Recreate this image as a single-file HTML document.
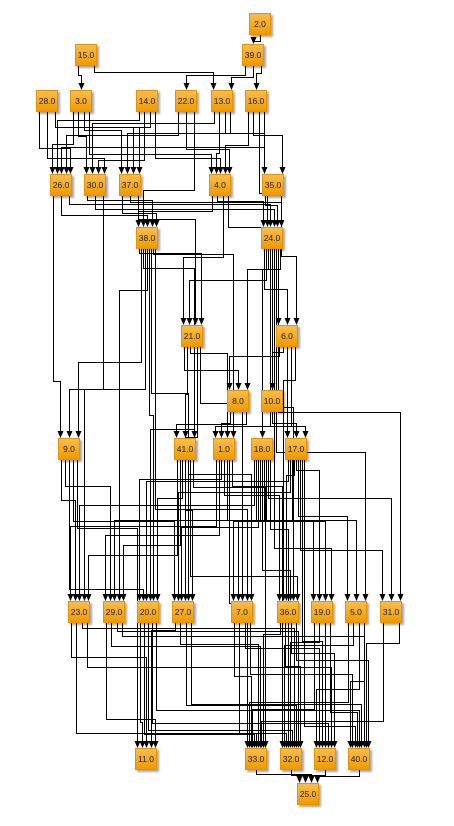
<!DOCTYPE html>
<html><head><meta charset="utf-8"><style>
html,body{margin:0;padding:0;background:#fff;width:454px;height:826px;overflow:hidden;position:relative}
svg{position:absolute;left:0;top:0}
.n{position:absolute;width:22px;height:22px;box-sizing:border-box;background:linear-gradient(#f8bd4e,#f09a00);border:1px solid #e39400;box-shadow:2px 2px 2px rgba(0,0,0,.35);font:8.5px "Liberation Sans",sans-serif;color:#222;text-align:center;line-height:21px}
</style></head><body>
<svg id="s" width="454" height="826"></svg>
<div class="n" style="left:249px;top:13px">2.0</div>
<div class="n" style="left:75px;top:44px">15.0</div>
<div class="n" style="left:242px;top:44px">39.0</div>
<div class="n" style="left:36px;top:90px">28.0</div>
<div class="n" style="left:70px;top:90px">3.0</div>
<div class="n" style="left:136px;top:90px">14.0</div>
<div class="n" style="left:175px;top:90px">22.0</div>
<div class="n" style="left:211px;top:90px">13.0</div>
<div class="n" style="left:245px;top:90px">16.0</div>
<div class="n" style="left:50px;top:174px">26.0</div>
<div class="n" style="left:84px;top:174px">30.0</div>
<div class="n" style="left:119px;top:174px">37.0</div>
<div class="n" style="left:209px;top:174px">4.0</div>
<div class="n" style="left:262px;top:174px">35.0</div>
<div class="n" style="left:136px;top:227px">38.0</div>
<div class="n" style="left:261px;top:227px">24.0</div>
<div class="n" style="left:181px;top:325px">21.0</div>
<div class="n" style="left:276px;top:325px">6.0</div>
<div class="n" style="left:227px;top:390px">8.0</div>
<div class="n" style="left:261px;top:390px">10.0</div>
<div class="n" style="left:58px;top:438px">9.0</div>
<div class="n" style="left:174px;top:438px">41.0</div>
<div class="n" style="left:213px;top:438px">1.0</div>
<div class="n" style="left:251px;top:438px">18.0</div>
<div class="n" style="left:285px;top:438px">17.0</div>
<div class="n" style="left:68px;top:601px">23.0</div>
<div class="n" style="left:103px;top:601px">29.0</div>
<div class="n" style="left:137px;top:601px">20.0</div>
<div class="n" style="left:172px;top:601px">27.0</div>
<div class="n" style="left:231px;top:601px">7.0</div>
<div class="n" style="left:277px;top:601px">36.0</div>
<div class="n" style="left:311px;top:601px">19.0</div>
<div class="n" style="left:345px;top:601px">5.0</div>
<div class="n" style="left:380px;top:601px">31.0</div>
<div class="n" style="left:135px;top:748px">11.0</div>
<div class="n" style="left:245px;top:748px">33.0</div>
<div class="n" style="left:280px;top:748px">32.0</div>
<div class="n" style="left:314px;top:748px">12.0</div>
<div class="n" style="left:348px;top:748px">40.0</div>
<div class="n" style="left:297px;top:783px">25.0</div>
<script>
var N={};
var ds=document.querySelectorAll('.n');
for(var i=0;i<ds.length;i++){var d=ds[i];N[d.textContent.replace('.0','')]=[parseInt(d.style.left)+11,parseInt(d.style.top)+11];}
var E={'2':['39'],'15':['3','13'],'39':['22','13','16'],'28':['26','30','37'],'3':['26','30','37','4'],
'14':['26','30','37','4'],'22':['26','4','38'],'13':['30','4','35','37'],'16':['4','35','24','26'],
'26':['9','38','24'],'30':['38','24','9'],'37':['38','24','21'],'4':['38','24','21','6'],'35':['24','6'],
'38':['21','9','41','23','29','20','27','1','7'],'24':['6','21','18','17','36','19','5','31','8'],
'21':['8','41','1','20','27','7'],'6':['8','10','17','1','36'],'8':['1','41'],'10':['17'],
'9':['23','29','20','27','11'],'41':['23','29','20','27','7','36','33'],'1':['23','29','20','36','19','33','32'],
'18':['23','29','27','7','36','19','5','31','32'],'17':['20','27','7','36','19','5','31','12','40'],
'23':['11','33','32','12'],'29':['11','33','32','40'],'20':['11','33','32','12','40'],'27':['11','33','32','40'],
'7':['33','32','12','40'],'36':['33','32','12','40'],'19':['33','32','12','40'],'5':['33','32','12','40'],
'31':['33','40'],'33':['25'],'32':['25'],'12':['25'],'40':['25']};
var inc={},incI={};
for(var s in E)E[s].forEach(function(t){inc[t]=(inc[t]||0)+1;});
var out='',seed=7;function r(){seed=(seed*9301+49297)%233280;return seed/233280;}
for(var s in E){var L=E[s],S=N[s];
L.forEach(function(t,i){var T=N[t];
var sx=Math.round(S[0]+(L.length>1?-8+16*i/(L.length-1):0))+0.5;
var n=inc[t];incI[t]=(incI[t]||0);var k=incI[t]++;
var tx=Math.round(T[0]+(n>1?-9+18*k/(n-1):0))+0.5;
var sy=S[1]+11,ty=T[1]-11;
var gap=ty-sy;var ym=sy+4+Math.round(r()*Math.max(2,gap-14))+0.5;
out+='<path d="M'+sx+' '+sy+'V'+ym+'H'+tx+'V'+(ty-5)+'" fill="none" stroke="#000" stroke-width="1"/>';
out+='<path d="M'+(tx-3)+' '+(ty-7)+'L'+(tx+3)+' '+(ty-7)+'L'+tx+' '+ty+'Z" fill="#000"/>';
});}
document.getElementById('s').innerHTML=out;
</script>
</body></html>
